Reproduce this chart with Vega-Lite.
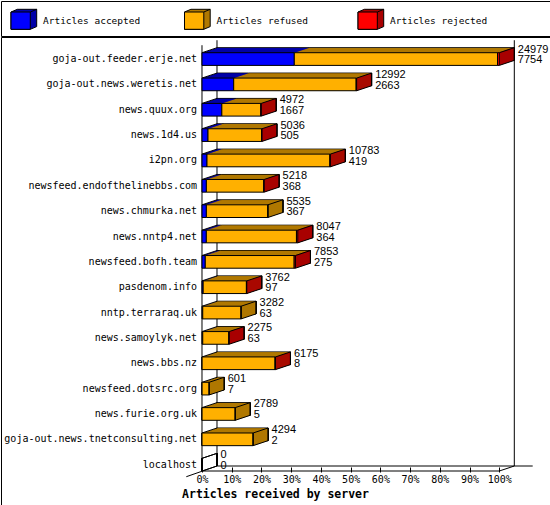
{
  "$schema": "https://vega.github.io/schema/vega-lite/v6.json",
  "padding": 0,
  "background": "white",
  "spacing": -2,
  "config": {
    "view": {"stroke": "black", "strokeWidth": 1},
    "legend": {"disable": true},
    "axis": {"labelColor": "black", "tickColor": "black", "domainColor": "black", "titleColor": "black"},
    "axisX": {"labelOverlap": false, "labelFlush": false}
  },
  "datasets": {
    "cats": [{"cat": "Articles accepted"}, {"cat": "Articles refused"}, {"cat": "Articles rejected"}],
    "srv": [
      {"server": "goja-out.feeder.erje.net", "total": 24979, "accepted": 7754},
      {"server": "goja-out.news.weretis.net", "total": 12992, "accepted": 2663},
      {"server": "news.quux.org", "total": 4972, "accepted": 1667},
      {"server": "news.1d4.us", "total": 5036, "accepted": 505},
      {"server": "i2pn.org", "total": 10783, "accepted": 419},
      {"server": "newsfeed.endofthelinebbs.com", "total": 5218, "accepted": 368},
      {"server": "news.chmurka.net", "total": 5535, "accepted": 367},
      {"server": "news.nntp4.net", "total": 8047, "accepted": 364},
      {"server": "newsfeed.bofh.team", "total": 7853, "accepted": 275},
      {"server": "pasdenom.info", "total": 3762, "accepted": 97},
      {"server": "nntp.terraraq.uk", "total": 3282, "accepted": 63},
      {"server": "news.samoylyk.net", "total": 2275, "accepted": 63},
      {"server": "news.bbs.nz", "total": 6175, "accepted": 8},
      {"server": "newsfeed.dotsrc.org", "total": 601, "accepted": 7},
      {"server": "news.furie.org.uk", "total": 2789, "accepted": 5},
      {"server": "goja-out.news.tnetconsulting.net", "total": 4294, "accepted": 2},
      {"server": "localhost", "total": 0, "accepted": 0}
    ],
    "seg": [
      {"server": "goja-out.feeder.erje.net", "cat": "Articles accepted", "count": 7754},
      {"server": "goja-out.feeder.erje.net", "cat": "Articles refused", "count": 17075},
      {"server": "goja-out.feeder.erje.net", "cat": "Articles rejected", "count": 150},
      {"server": "goja-out.news.weretis.net", "cat": "Articles accepted", "count": 2663},
      {"server": "goja-out.news.weretis.net", "cat": "Articles refused", "count": 10289},
      {"server": "goja-out.news.weretis.net", "cat": "Articles rejected", "count": 40},
      {"server": "news.quux.org", "cat": "Articles accepted", "count": 1667},
      {"server": "news.quux.org", "cat": "Articles refused", "count": 3275},
      {"server": "news.quux.org", "cat": "Articles rejected", "count": 30},
      {"server": "news.1d4.us", "cat": "Articles accepted", "count": 505},
      {"server": "news.1d4.us", "cat": "Articles refused", "count": 4501},
      {"server": "news.1d4.us", "cat": "Articles rejected", "count": 30},
      {"server": "i2pn.org", "cat": "Articles accepted", "count": 419},
      {"server": "i2pn.org", "cat": "Articles refused", "count": 10324},
      {"server": "i2pn.org", "cat": "Articles rejected", "count": 40},
      {"server": "newsfeed.endofthelinebbs.com", "cat": "Articles accepted", "count": 368},
      {"server": "newsfeed.endofthelinebbs.com", "cat": "Articles refused", "count": 4820},
      {"server": "newsfeed.endofthelinebbs.com", "cat": "Articles rejected", "count": 30},
      {"server": "news.chmurka.net", "cat": "Articles accepted", "count": 367},
      {"server": "news.chmurka.net", "cat": "Articles refused", "count": 5168},
      {"server": "news.chmurka.net", "cat": "Articles rejected", "count": 0},
      {"server": "news.nntp4.net", "cat": "Articles accepted", "count": 364},
      {"server": "news.nntp4.net", "cat": "Articles refused", "count": 7573},
      {"server": "news.nntp4.net", "cat": "Articles rejected", "count": 110},
      {"server": "newsfeed.bofh.team", "cat": "Articles accepted", "count": 275},
      {"server": "newsfeed.bofh.team", "cat": "Articles refused", "count": 7468},
      {"server": "newsfeed.bofh.team", "cat": "Articles rejected", "count": 110},
      {"server": "pasdenom.info", "cat": "Articles accepted", "count": 97},
      {"server": "pasdenom.info", "cat": "Articles refused", "count": 3635},
      {"server": "pasdenom.info", "cat": "Articles rejected", "count": 30},
      {"server": "nntp.terraraq.uk", "cat": "Articles accepted", "count": 63},
      {"server": "nntp.terraraq.uk", "cat": "Articles refused", "count": 3219},
      {"server": "nntp.terraraq.uk", "cat": "Articles rejected", "count": 0},
      {"server": "news.samoylyk.net", "cat": "Articles accepted", "count": 63},
      {"server": "news.samoylyk.net", "cat": "Articles refused", "count": 2192},
      {"server": "news.samoylyk.net", "cat": "Articles rejected", "count": 20},
      {"server": "news.bbs.nz", "cat": "Articles accepted", "count": 8},
      {"server": "news.bbs.nz", "cat": "Articles refused", "count": 6127},
      {"server": "news.bbs.nz", "cat": "Articles rejected", "count": 40},
      {"server": "newsfeed.dotsrc.org", "cat": "Articles accepted", "count": 7},
      {"server": "newsfeed.dotsrc.org", "cat": "Articles refused", "count": 594},
      {"server": "newsfeed.dotsrc.org", "cat": "Articles rejected", "count": 0},
      {"server": "news.furie.org.uk", "cat": "Articles accepted", "count": 5},
      {"server": "news.furie.org.uk", "cat": "Articles refused", "count": 2784},
      {"server": "news.furie.org.uk", "cat": "Articles rejected", "count": 0},
      {"server": "goja-out.news.tnetconsulting.net", "cat": "Articles accepted", "count": 2},
      {"server": "goja-out.news.tnetconsulting.net", "cat": "Articles refused", "count": 4292},
      {"server": "goja-out.news.tnetconsulting.net", "cat": "Articles rejected", "count": 0},
      {"server": "localhost", "cat": "Articles accepted", "count": 0},
      {"server": "localhost", "cat": "Articles refused", "count": 0},
      {"server": "localhost", "cat": "Articles rejected", "count": 0}
    ]
  },
  "vconcat": [
    {
      "width": 549,
      "height": 35,
      "data": {"name": "cats"},
      "encoding": {
        "x": {"field": "cat", "type": "nominal", "bandPosition": 0, "axis": null,
              "scale": {"type": "band", "domain": ["Articles accepted", "Articles refused", "Articles rejected"], "paddingInner": 0, "paddingOuter": 0.082, "align": 0.351}}
      },
      "layer": [
        {"mark": {"type": "point", "shape": "M0,-6.5L6.4,-9.2L25.7,-9.2L25.7,8.1L19.3,10.8L0,10.8Z M19.3,-6.5L25.7,-9.2", "size": 4, "filled": true, "opacity": 1, "stroke": "black", "strokeWidth": 1},
         "encoding": {"fill": {"field": "cat", "type": "nominal", "scale": {"domain": ["Articles accepted", "Articles refused", "Articles rejected"], "range": ["#0000a8", "#b07800", "#a80000"]}}}},
        {"mark": {"type": "point", "shape": "M0,-6.5L19.3,-6.5L19.3,10.8L0,10.8Z", "size": 4, "filled": true, "opacity": 1, "stroke": "black", "strokeWidth": 1},
         "encoding": {"color": {"field": "cat", "type": "nominal", "scale": {"domain": ["Articles accepted", "Articles refused", "Articles rejected"], "range": ["#0000ff", "#ffb000", "#ff0000"]}}}},
        {"mark": {"type": "text", "align": "left", "baseline": "middle", "dx": 32, "dy": 2.5, "font": "DejaVu Sans Mono", "fontSize": 9.5, "color": "black"},
         "encoding": {"text": {"field": "cat", "type": "nominal"}}}
      ]
    },
    {
      "width": 549,
      "height": 469,
      "layer": [
        {
          "data": {"values": [{"k": 1}]},
          "layer": [
            {"mark": {"type": "rule", "color": "black", "strokeWidth": 1, "xOffset": 15, "yOffset": -12.5, "y2Offset": -5},
             "encoding": {"x": {"datum": 0, "type": "quantitative"},
                          "y": {"datum": "goja-out.feeder.erje.net", "type": "nominal", "bandPosition": 0}, "y2": {"datum": "localhost", "bandPosition": 1}}},
            {"mark": {"type": "rule", "color": "black", "strokeWidth": 1, "xOffset": 15, "yOffset": -12.5, "y2Offset": -5},
             "encoding": {"x": {"datum": 24979, "type": "quantitative"},
                          "y": {"datum": "goja-out.feeder.erje.net", "type": "nominal", "bandPosition": 0}, "y2": {"datum": "localhost", "bandPosition": 1}}},
            {"mark": {"type": "rule", "color": "black", "strokeWidth": 1, "yOffset": -7.5},
             "encoding": {"x": {"datum": 0, "type": "quantitative"},
                          "y": {"datum": "goja-out.feeder.erje.net", "type": "nominal", "bandPosition": 0}, "y2": {"datum": "localhost", "bandPosition": 1}}},
            {"mark": {"type": "rule", "color": "black", "strokeWidth": 1},
             "encoding": {"x": {"datum": 0, "type": "quantitative"}, "x2": {"datum": 24979},
                          "y": {"datum": "localhost", "type": "nominal", "bandPosition": 1}}},
            {"mark": {"type": "rule", "color": "black", "strokeWidth": 1, "xOffset": 15, "x2Offset": 33.4, "yOffset": -5},
             "encoding": {"x": {"datum": 0, "type": "quantitative"}, "x2": {"datum": 24979},
                          "y": {"datum": "localhost", "type": "nominal", "bandPosition": 1}}},
            {"mark": {"type": "rule", "color": "black", "strokeWidth": 1, "xOffset": -15.7, "x2Offset": 15, "yOffset": 5.7, "y2Offset": -5},
             "encoding": {"x": {"datum": 0, "type": "quantitative"}, "x2": {"datum": 0},
                          "y": {"datum": "localhost", "type": "nominal", "bandPosition": 1}, "y2": {"datum": "localhost", "bandPosition": 1}}},
            {"mark": {"type": "rule", "color": "black", "strokeWidth": 1, "x2Offset": 15, "y2Offset": -5},
             "encoding": {"x": {"datum": 24979, "type": "quantitative"}, "x2": {"datum": 24979},
                          "y": {"datum": "localhost", "type": "nominal", "bandPosition": 1}, "y2": {"datum": "localhost", "bandPosition": 1}}}
          ]
        },
        {
          "data": {"name": "seg"},
          "encoding": {
            "x": {"field": "count", "type": "quantitative", "stack": "zero",
                  "scale": {"domain": [-16888, 29239], "nice": false, "zero": false},
                  "axis": {"title": "Articles received by server", "values": [0, 2497.9, 4995.8, 7493.7, 9991.6, 12489.5, 14987.4, 17485.3, 19983.2, 22481.1, 24979], "tickCount": 11,
                           "labelExpr": "round(datum.value / 249.79) + '%'", "grid": false, "domain": false, "tickSize": 5, "labelPadding": 2, "offset": -39,
                           "labelFont": "DejaVu Sans Mono", "labelFontSize": 10, "labelOverlap": false, "labelFlush": false,
                           "titleFont": "DejaVu Sans Mono", "titleFontSize": 11.5, "titleFontWeight": "bold",
                           "titleX": 274, "titleY": 27, "titleAlign": "center", "titleBaseline": "middle"}},
            "y": {"field": "server", "type": "nominal", "sort": null,
                  "axis": {"title": null, "labels": false, "ticks": false, "domain": false, "grid": false},
                  "scale": {"domain": ["goja-out.feeder.erje.net", "goja-out.news.weretis.net", "news.quux.org", "news.1d4.us", "i2pn.org", "newsfeed.endofthelinebbs.com", "news.chmurka.net", "news.nntp4.net", "newsfeed.bofh.team", "pasdenom.info", "nntp.terraraq.uk", "news.samoylyk.net", "news.bbs.nz", "newsfeed.dotsrc.org", "news.furie.org.uk", "goja-out.news.tnetconsulting.net", "localhost"], "paddingInner": 0.5, "paddingOuter": 1.13, "align": 0.31}},
            "fill": {"field": "cat", "type": "nominal", "scale": {"domain": ["Articles accepted", "Articles refused", "Articles rejected"], "range": ["#0000a8", "#b07800", "#a80000"]}},
            "order": {"field": "cat", "type": "ordinal", "sort": "ascending"}
          },
          "layer": [
            {"mark": {"type": "bar", "stroke": "black", "strokeWidth": 1, "xOffset": 15, "x2Offset": 15, "yOffset": -5, "y2Offset": -5}},
            {"mark": {"type": "bar", "strokeWidth": 0, "xOffset": 14, "x2Offset": 14, "yOffset": -4.667, "y2Offset": -4.667}},
            {"mark": {"type": "bar", "strokeWidth": 0, "xOffset": 13, "x2Offset": 13, "yOffset": -4.333, "y2Offset": -4.333}},
            {"mark": {"type": "bar", "strokeWidth": 0, "xOffset": 12, "x2Offset": 12, "yOffset": -4, "y2Offset": -4}},
            {"mark": {"type": "bar", "strokeWidth": 0, "xOffset": 11, "x2Offset": 11, "yOffset": -3.667, "y2Offset": -3.667}},
            {"mark": {"type": "bar", "strokeWidth": 0, "xOffset": 10, "x2Offset": 10, "yOffset": -3.333, "y2Offset": -3.333}},
            {"mark": {"type": "bar", "strokeWidth": 0, "xOffset": 9, "x2Offset": 9, "yOffset": -3, "y2Offset": -3}},
            {"mark": {"type": "bar", "strokeWidth": 0, "xOffset": 8, "x2Offset": 8, "yOffset": -2.667, "y2Offset": -2.667}},
            {"mark": {"type": "bar", "strokeWidth": 0, "xOffset": 7, "x2Offset": 7, "yOffset": -2.333, "y2Offset": -2.333}},
            {"mark": {"type": "bar", "strokeWidth": 0, "xOffset": 6, "x2Offset": 6, "yOffset": -2, "y2Offset": -2}},
            {"mark": {"type": "bar", "strokeWidth": 0, "xOffset": 5, "x2Offset": 5, "yOffset": -1.667, "y2Offset": -1.667}},
            {"mark": {"type": "bar", "strokeWidth": 0, "xOffset": 4, "x2Offset": 4, "yOffset": -1.333, "y2Offset": -1.333}},
            {"mark": {"type": "bar", "strokeWidth": 0, "xOffset": 3, "x2Offset": 3, "yOffset": -1, "y2Offset": -1}},
            {"mark": {"type": "bar", "strokeWidth": 0, "xOffset": 2, "x2Offset": 2, "yOffset": -0.667, "y2Offset": -0.667}},
            {"mark": {"type": "bar", "strokeWidth": 0, "xOffset": 1, "x2Offset": 1, "yOffset": -0.333, "y2Offset": -0.333}}
          ]
        },
        {
          "data": {"name": "seg"},
          "transform": [
            {"filter": "datum.count > 0"},
            {"stack": "count", "groupby": ["server"], "sort": [{"field": "cat", "order": "ascending"}], "as": ["x0", "x1"]},
            {"window": [{"op": "row_number", "as": "rk"}], "groupby": ["server"], "sort": [{"field": "cat", "order": "descending"}]},
            {"filter": "datum.rk == 1"}
          ],
          "encoding": {
            "x": {"field": "x1", "type": "quantitative"},
            "x2": {"field": "x1"},
            "y": {"field": "server", "type": "nominal", "sort": null},
            "stroke": {"field": "cat", "type": "nominal", "scale": {"domain": ["Articles accepted", "Articles refused", "Articles rejected"], "range": ["#0000a8", "#b07800", "#a80000"]}}
          },
          "layer": [
            {"mark": {"type": "bar", "fillOpacity": 0, "strokeWidth": 1.15, "xOffset": 14.5, "x2Offset": 14.5, "yOffset": -4.833, "y2Offset": -4.833}},
            {"mark": {"type": "bar", "fillOpacity": 0, "strokeWidth": 1.15, "xOffset": 13.5, "x2Offset": 13.5, "yOffset": -4.5, "y2Offset": -4.5}},
            {"mark": {"type": "bar", "fillOpacity": 0, "strokeWidth": 1.15, "xOffset": 12.5, "x2Offset": 12.5, "yOffset": -4.167, "y2Offset": -4.167}},
            {"mark": {"type": "bar", "fillOpacity": 0, "strokeWidth": 1.15, "xOffset": 11.5, "x2Offset": 11.5, "yOffset": -3.833, "y2Offset": -3.833}},
            {"mark": {"type": "bar", "fillOpacity": 0, "strokeWidth": 1.15, "xOffset": 10.5, "x2Offset": 10.5, "yOffset": -3.5, "y2Offset": -3.5}},
            {"mark": {"type": "bar", "fillOpacity": 0, "strokeWidth": 1.15, "xOffset": 9.5, "x2Offset": 9.5, "yOffset": -3.167, "y2Offset": -3.167}},
            {"mark": {"type": "bar", "fillOpacity": 0, "strokeWidth": 1.15, "xOffset": 8.5, "x2Offset": 8.5, "yOffset": -2.833, "y2Offset": -2.833}},
            {"mark": {"type": "bar", "fillOpacity": 0, "strokeWidth": 1.15, "xOffset": 7.5, "x2Offset": 7.5, "yOffset": -2.5, "y2Offset": -2.5}},
            {"mark": {"type": "bar", "fillOpacity": 0, "strokeWidth": 1.15, "xOffset": 6.5, "x2Offset": 6.5, "yOffset": -2.167, "y2Offset": -2.167}},
            {"mark": {"type": "bar", "fillOpacity": 0, "strokeWidth": 1.15, "xOffset": 5.5, "x2Offset": 5.5, "yOffset": -1.833, "y2Offset": -1.833}},
            {"mark": {"type": "bar", "fillOpacity": 0, "strokeWidth": 1.15, "xOffset": 4.5, "x2Offset": 4.5, "yOffset": -1.5, "y2Offset": -1.5}},
            {"mark": {"type": "bar", "fillOpacity": 0, "strokeWidth": 1.15, "xOffset": 3.5, "x2Offset": 3.5, "yOffset": -1.167, "y2Offset": -1.167}},
            {"mark": {"type": "bar", "fillOpacity": 0, "strokeWidth": 1.15, "xOffset": 2.5, "x2Offset": 2.5, "yOffset": -0.833, "y2Offset": -0.833}},
            {"mark": {"type": "bar", "fillOpacity": 0, "strokeWidth": 1.15, "xOffset": 1.5, "x2Offset": 1.5, "yOffset": -0.5, "y2Offset": -0.5}},
            {"mark": {"type": "bar", "fillOpacity": 0, "strokeWidth": 1.15, "xOffset": 0.5, "x2Offset": 0.5, "yOffset": -0.167, "y2Offset": -0.167}}
          ]
        },
        {
          "data": {"name": "srv"},
          "layer": [
            {"mark": {"type": "bar", "fillOpacity": 0, "stroke": "black", "strokeWidth": 1, "xOffset": 15, "x2Offset": 15, "yOffset": -5, "y2Offset": -5},
             "encoding": {"x": {"field": "total", "type": "quantitative"}, "x2": {"field": "total"}, "y": {"field": "server", "type": "nominal", "sort": null}}},
            {"mark": {"type": "rule", "color": "black", "strokeWidth": 1, "x2Offset": 15, "y2Offset": -5},
             "encoding": {"x": {"datum": 0, "type": "quantitative"}, "x2": {"datum": 0},
                          "y": {"field": "server", "type": "nominal", "sort": null, "bandPosition": 0}, "y2": {"field": "server", "bandPosition": 0}}},
            {"mark": {"type": "rule", "color": "black", "strokeWidth": 1, "x2Offset": 15, "y2Offset": -5},
             "encoding": {"x": {"field": "total", "type": "quantitative"}, "x2": {"field": "total"},
                          "y": {"field": "server", "type": "nominal", "sort": null, "bandPosition": 0}, "y2": {"field": "server", "bandPosition": 0}}},
            {"mark": {"type": "rule", "color": "black", "strokeWidth": 1, "x2Offset": 15, "y2Offset": -5},
             "encoding": {"x": {"field": "total", "type": "quantitative"}, "x2": {"field": "total"},
                          "y": {"field": "server", "type": "nominal", "sort": null, "bandPosition": 1}, "y2": {"field": "server", "bandPosition": 1}}}
          ]
        },
        {
          "data": {"name": "seg"},
          "mark": {"type": "bar", "stroke": "black", "strokeWidth": 1},
          "encoding": {
            "x": {"field": "count", "type": "quantitative", "stack": "zero"},
            "y": {"field": "server", "type": "nominal", "sort": null},
            "color": {"field": "cat", "type": "nominal", "scale": {"domain": ["Articles accepted", "Articles refused", "Articles rejected"], "range": ["#0000ff", "#ffb000", "#ff0000"]}},
            "order": {"field": "cat", "type": "ordinal", "sort": "ascending"}
          }
        },
        {
          "data": {"name": "srv"},
          "encoding": {
            "y": {"field": "server", "type": "nominal", "sort": null}
          },
          "layer": [
            {"mark": {"type": "text", "align": "left", "baseline": "middle", "dx": 18.5, "dy": -9.5, "font": "Liberation Sans", "fontSize": 11, "color": "black"},
             "encoding": {"x": {"field": "total", "type": "quantitative"}, "text": {"field": "total", "type": "quantitative", "format": "d"}}},
            {"mark": {"type": "text", "align": "left", "baseline": "middle", "dx": 18.5, "dy": 1.2, "font": "Liberation Sans", "fontSize": 11, "color": "black"},
             "encoding": {"x": {"field": "total", "type": "quantitative"}, "text": {"field": "accepted", "type": "quantitative", "format": "d"}}},
            {"mark": {"type": "text", "align": "right", "baseline": "middle", "dx": -5, "font": "DejaVu Sans Mono", "fontSize": 10, "color": "black"},
             "encoding": {"x": {"datum": 0, "type": "quantitative"}, "text": {"field": "server", "type": "nominal"}}}
          ]
        }
      ]
    }
  ]
}
